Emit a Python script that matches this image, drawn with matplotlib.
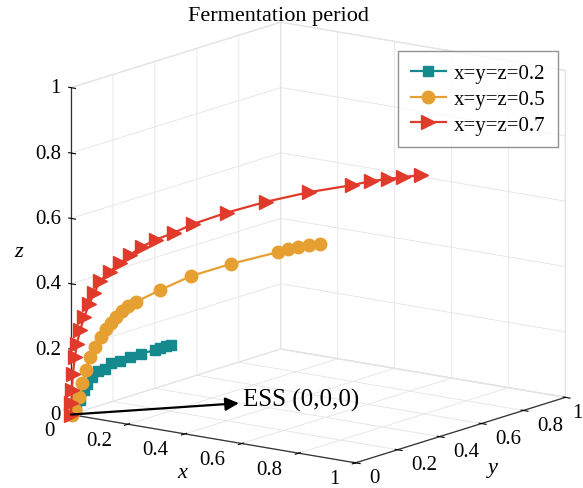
import numpy as np
import matplotlib
matplotlib.use('Agg')
import matplotlib.pyplot as plt
from matplotlib.ticker import NullFormatter
from mpl_toolkits.mplot3d import proj3d

# --- DATA (x = y along each path) ---
# start point (a,a,a) -> ESS (0,0,0)
teal_s = [0.202, 0.192, 0.181, 0.169, 0.142, 0.120, 0.099, 0.080, 0.068, 0.054,
          0.043, 0.033, 0.027, 0.019, 0.010, 0.0]
teal_z = [0.203, 0.200, 0.194, 0.188, 0.179, 0.171, 0.160, 0.152, 0.137, 0.129,
          0.114, 0.093, 0.075, 0.045, 0.018, 0.0]

orange_s = [0.503, 0.482, 0.460, 0.439, 0.419, 0.324, 0.243, 0.181, 0.132, 0.115,
            0.103, 0.091, 0.080, 0.070, 0.060, 0.049, 0.039, 0.031, 0.023, 0.016,
            0.008, 0.002]
orange_z = [0.495, 0.494, 0.488, 0.484, 0.475, 0.444, 0.411, 0.372, 0.338, 0.327,
            0.312, 0.295, 0.277, 0.259, 0.235, 0.205, 0.175, 0.136, 0.094, 0.054,
            0.015, 0.0]

red_s = [0.707, 0.672, 0.641, 0.606, 0.569, 0.482, 0.394, 0.315, 0.247, 0.208,
         0.171, 0.144, 0.120, 0.099, 0.078, 0.058, 0.047, 0.037, 0.027, 0.019,
         0.012, 0.008, 0.004, 0.002, 0.001, 0.0]
red_z = [0.695, 0.691, 0.687, 0.682, 0.672, 0.655, 0.630, 0.601, 0.570, 0.545,
         0.526, 0.506, 0.483, 0.457, 0.433, 0.404, 0.368, 0.337, 0.298, 0.259,
         0.216, 0.177, 0.125, 0.076, 0.034, 0.0]

labels = ['x=y=z=0.2', 'x=y=z=0.5', 'x=y=z=0.7']
ticks = [0, 0.2, 0.4, 0.6, 0.8, 1]

plt.rcParams['font.family'] = ['Liberation Serif', 'DejaVu Serif']

fig = plt.figure(figsize=(5.83, 4.89), dpi=100)
ax = fig.add_subplot(projection='3d', proj_type='ortho')
ax.set_position([0.014, -0.032, 1.04, 1.04])
ax.view_init(elev=13.3, azim=-53.6)
ax.set_box_aspect((1, 1, 0.95), zoom=1.15)

series = [(teal_s, teal_z, '#14898E', 's', 7),
          (orange_s, orange_z, '#E6A032', 'o', 9),
          (red_s, red_z, '#E03A2A', '>', 10)]
for (s, z, col, mk, ms), lab in zip(series, labels):
    ax.plot(s, s, z, color=col, marker=mk, markersize=ms, linewidth=1.6,
            label=lab)

ax.set_xlim(0, 1)
ax.set_ylim(0, 1)
ax.set_zlim(0, 1)
for axis in (ax.xaxis, ax.yaxis, ax.zaxis):
    axis.set_ticks(ticks)
    # tick labels are placed by hand below (MATLAB-like offsets)
    axis.set_major_formatter(NullFormatter())
    axis.set_pane_color((1, 1, 1, 1))
    axis.pane.set_edgecolor('#e4e4e4')
    axis.line.set_color('#333333')
    axis.line.set_linewidth(0.9)
    axis._axinfo['grid']['color'] = '#e4e4e4'
    axis._axinfo['grid']['linewidth'] = 0.6
    axis._axinfo['tick']['color'] = '#333333'
# put the z axis on the left edge
ax.zaxis._axinfo['juggled'] = (1, 2, 0)

fig.text(0.478, 0.966, 'Fermentation period', ha='center', va='center',
         fontsize=16)

leg = ax.legend(loc='upper left', bbox_to_anchor=(398 / 583, 1 - 52 / 489),
                bbox_transform=fig.transFigure, fontsize=15, frameon=True,
                fancybox=False, edgecolor='#777777', handlelength=1.7,
                handletextpad=0.4, borderpad=0.6, labelspacing=0.3,
                borderaxespad=0)
leg.get_frame().set_linewidth(1.0)

fig.canvas.draw()
M = ax.get_proj()

def proj(x, y, z):
    px, py, _ = proj3d.proj_transform(x, y, z, M)
    return px, py

for t in ticks:
    ax.annotate('%g' % t, xy=proj(t, 0, 0), xycoords='data',
                xytext=(-16, -16), textcoords='offset pixels',
                ha='right', va='center', fontsize=15)
    ax.annotate('%g' % t, xy=proj(1, t, 0), xycoords='data',
                xytext=(14 if t < 1 else 7, -15), textcoords='offset pixels',
                ha='left', va='center', fontsize=15)
    ax.annotate('%g' % t, xy=proj(0, 0, t), xycoords='data',
                xytext=(-10, 0), textcoords='offset pixels',
                ha='right', va='center', fontsize=15)

ax.annotate('x', xy=proj(0.4, 0, 0), xycoords='data', xytext=(-3, -39),
            textcoords='offset pixels', ha='center', va='center',
            fontsize=16, fontstyle='italic')
ax.annotate('y', xy=proj(1, 0.5, 0), xycoords='data', xytext=(32, -37),
            textcoords='offset pixels', ha='center', va='center',
            fontsize=16, fontstyle='italic')
ax.annotate('z', xy=proj(0, 0, 0.5), xycoords='data', xytext=(-52, 0),
            textcoords='offset pixels', ha='center', va='center',
            fontsize=16, fontstyle='italic')

ax.annotate('ESS (0,0,0)', xy=proj(0, 0, 0), xycoords='data',
            xytext=(243 / 583, 1 - 400 / 489), textcoords='figure fraction',
            ha='left', va='center', fontsize=18,
            arrowprops=dict(arrowstyle='<|-', color='black', lw=1.6,
                            mutation_scale=20, shrinkA=1, shrinkB=0))

fig.savefig('out.png', dpi=100)
